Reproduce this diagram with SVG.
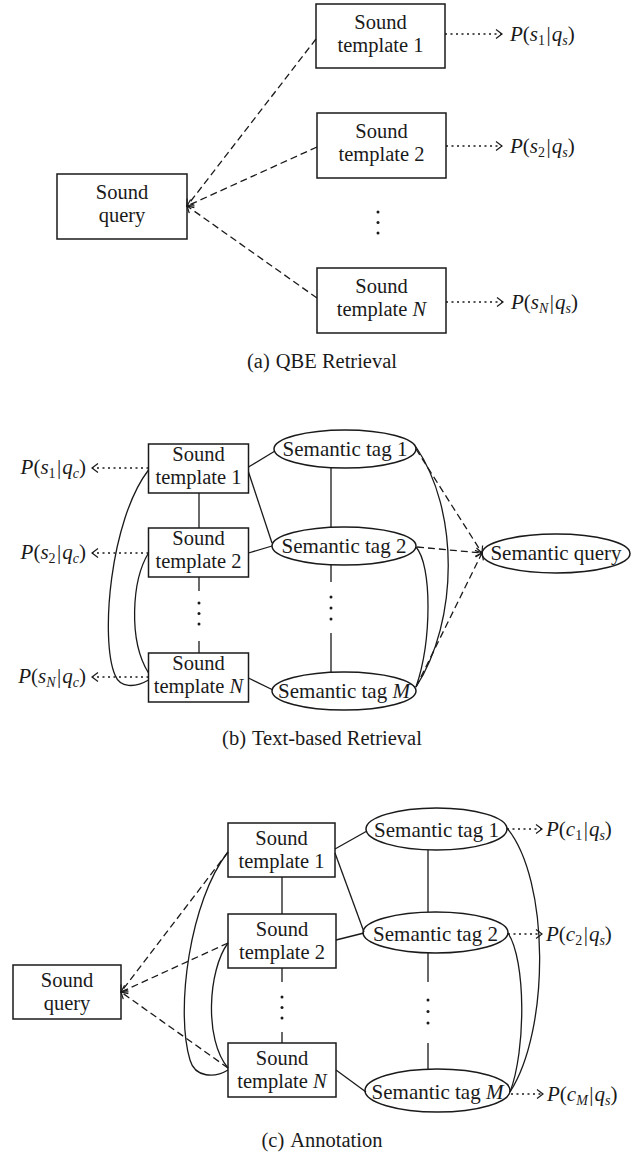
<svg xmlns="http://www.w3.org/2000/svg" width="644" height="1153" viewBox="0 0 644 1153">
  <defs>
    <style>
      .box { fill: none; stroke: #1a1a1a; stroke-width: 1.5; }
      .t { font-family: "Liberation Serif", "Times New Roman", serif; font-size: 21px; fill: #1a1a1a; text-anchor: middle; }
      .bt { font-size: 20.5px; }
      .lab { font-family: "Liberation Serif", "Times New Roman", serif; font-size: 21px; fill: #1a1a1a; }
      .end { text-anchor: end; }
      .i { font-style: italic; }
      .sub { font-size: 14px; }
      .ln { fill: none; stroke: #1a1a1a; stroke-width: 1.3; }
      .dash { stroke-dasharray: 7 4; }
      .dot { stroke-dasharray: 2 3.5; }
      .pt { fill: #1a1a1a; }
    </style>
    <marker id="chev" markerUnits="userSpaceOnUse" viewBox="-8 -6 10 12" refX="0" refY="0" markerWidth="10" markerHeight="12" orient="auto">
      <path d="M-6,-4.5 L0,0 L-6,4.5" fill="none" stroke="#1a1a1a" stroke-width="1.2"/>
    </marker>
  </defs>

  <!-- ===================== (a) QBE Retrieval ===================== -->
  <g id="a-query">
    <rect class="box" x="57" y="174" width="130" height="65"/>
    <text class="t bt" x="122" y="199">Sound</text>
    <text class="t bt" x="122" y="222">query</text>
  </g>
  <g id="a-template-1">
    <rect class="box" x="316" y="4" width="129" height="64"/>
    <text class="t bt" x="380.5" y="28.5">Sound</text>
    <text class="t bt" x="380.5" y="51.5">template 1</text>
  </g>
  <g id="a-template-2">
    <rect class="box" x="317" y="113" width="129" height="65"/>
    <text class="t bt" x="381.5" y="138">Sound</text>
    <text class="t bt" x="381.5" y="161">template 2</text>
  </g>
  <g id="a-template-n">
    <rect class="box" x="317" y="268" width="129" height="65"/>
    <text class="t bt" x="381.5" y="293">Sound</text>
    <text class="t bt" x="381.5" y="316">template <tspan class="i">N</tspan></text>
  </g>
  <g id="a-vdots">
    <circle class="pt" cx="378" cy="212" r="1.5"/>
    <circle class="pt" cx="378" cy="222.5" r="1.5"/>
    <circle class="pt" cx="378" cy="233" r="1.5"/>
  </g>
  <g id="a-labels">
    <text class="lab" x="510" y="41"><tspan class="i">P</tspan>(<tspan class="i">s</tspan><tspan class="sub" dy="4">1</tspan><tspan dy="-4" dx="1.5">|</tspan><tspan class="i" dx="1">q</tspan><tspan class="sub i" dy="4">s</tspan><tspan dy="-4">)</tspan></text>
    <text class="lab" x="510" y="153"><tspan class="i">P</tspan>(<tspan class="i">s</tspan><tspan class="sub" dy="4">2</tspan><tspan dy="-4" dx="1.5">|</tspan><tspan class="i" dx="1">q</tspan><tspan class="sub i" dy="4">s</tspan><tspan dy="-4">)</tspan></text>
    <text class="lab" x="511" y="309"><tspan class="i">P</tspan>(<tspan class="i">s</tspan><tspan class="sub i" dy="4">N</tspan><tspan dy="-4" dx="1.5">|</tspan><tspan class="i" dx="1">q</tspan><tspan class="sub i" dy="4">s</tspan><tspan dy="-4">)</tspan></text>
  </g>
  <g id="a-connectors">
    <path class="ln dash" d="M316,39 L187,206" marker-end="url(#chev)"/>
    <path class="ln dash" d="M317,147 L187,206" marker-end="url(#chev)"/>
    <path class="ln dash" d="M317,298 L187,206" marker-end="url(#chev)"/>
    <path class="ln dot" d="M445,34 L502,34" marker-end="url(#chev)"/>
    <path class="ln dot" d="M446,146 L502,146" marker-end="url(#chev)"/>
    <path class="ln dot" d="M446,302 L503,302" marker-end="url(#chev)"/>
  </g>
  <text class="t bt" x="322" y="368">(a)<tspan dx="6">QBE Retrieval</tspan></text>

  <!-- ===================== (b) Text-based Retrieval ===================== -->
  <g id="b-template-1">
    <rect class="box" x="148.5" y="444" width="100" height="49"/>
    <text class="t bt" x="198.5" y="461">Sound</text>
    <text class="t bt" x="198.5" y="484">template 1</text>
  </g>
  <g id="b-template-2">
    <rect class="box" x="148.5" y="528" width="100" height="49"/>
    <text class="t bt" x="198.5" y="545">Sound</text>
    <text class="t bt" x="198.5" y="568">template 2</text>
  </g>
  <g id="b-template-n">
    <rect class="box" x="148.5" y="653" width="100" height="49"/>
    <text class="t bt" x="198.5" y="670">Sound</text>
    <text class="t bt" x="198.5" y="693">template <tspan class="i">N</tspan></text>
  </g>
  <g id="b-tag-1">
    <ellipse class="box" cx="345" cy="449" rx="71" ry="19"/>
    <text class="t" x="345" y="456">Semantic tag 1</text>
  </g>
  <g id="b-tag-2">
    <ellipse class="box" cx="344" cy="546" rx="72" ry="19"/>
    <text class="t" x="344" y="553">Semantic tag 2</text>
  </g>
  <g id="b-tag-m">
    <ellipse class="box" cx="344" cy="691" rx="72" ry="19"/>
    <text class="t" x="344" y="698">Semantic tag <tspan class="i">M</tspan></text>
  </g>
  <g id="b-semantic-query">
    <ellipse class="box" cx="556" cy="553.5" rx="74" ry="19.5"/>
    <text class="t" x="556" y="560">Semantic query</text>
  </g>
  <g id="b-labels">
    <text class="lab end" x="86" y="474"><tspan class="i">P</tspan>(<tspan class="i">s</tspan><tspan class="sub" dy="4">1</tspan><tspan dy="-4" dx="1.5">|</tspan><tspan class="i" dx="1">q</tspan><tspan class="sub i" dy="4">c</tspan><tspan dy="-4">)</tspan></text>
    <text class="lab end" x="86" y="559"><tspan class="i">P</tspan>(<tspan class="i">s</tspan><tspan class="sub" dy="4">2</tspan><tspan dy="-4" dx="1.5">|</tspan><tspan class="i" dx="1">q</tspan><tspan class="sub i" dy="4">c</tspan><tspan dy="-4">)</tspan></text>
    <text class="lab end" x="86" y="683"><tspan class="i">P</tspan>(<tspan class="i">s</tspan><tspan class="sub i" dy="4">N</tspan><tspan dy="-4" dx="1.5">|</tspan><tspan class="i" dx="1">q</tspan><tspan class="sub i" dy="4">c</tspan><tspan dy="-4">)</tspan></text>
  </g>
  <g id="b-vdots">
    <circle class="pt" cx="199" cy="603" r="1.5"/>
    <circle class="pt" cx="199" cy="613.5" r="1.5"/>
    <circle class="pt" cx="199" cy="624" r="1.5"/>
    <circle class="pt" cx="331" cy="597" r="1.5"/>
    <circle class="pt" cx="331" cy="608" r="1.5"/>
    <circle class="pt" cx="331" cy="619" r="1.5"/>
  </g>
  <g id="b-connectors">
    <!-- template chain -->
    <path class="ln" d="M199,493 L199,528"/>
    <path class="ln" d="M199,577 L199,591 M199,641 L199,653"/>
    <!-- tag chain -->
    <path class="ln" d="M331,468 L331,527"/>
    <path class="ln" d="M331,565 L331,582 M331,633 L331,672"/>
    <!-- template to tag -->
    <path class="ln" d="M248.5,467 L275,451"/>
    <path class="ln" d="M248.5,472 L272,543"/>
    <path class="ln" d="M248.5,553 L272,546"/>
    <path class="ln" d="M248.5,678 L273,690"/>
    <!-- loops on the left -->
    <path class="ln" d="M148.5,470 C110,520 100,640 115,675 C120,688 135,688 148.5,680"/>
    <path class="ln" d="M148.5,553 C132,580 128,640 148.5,673"/>
    <!-- loops on the right -->
    <path class="ln" d="M416,447 C459,510 459,620 416,687"/>
    <path class="ln" d="M416,547 C432,565 432,640 416,687"/>
    <!-- tags to semantic query -->
    <path class="ln dash" d="M416,449 L482,553" marker-end="url(#chev)"/>
    <path class="ln dash" d="M417,547 L482,553" marker-end="url(#chev)"/>
    <path class="ln dash" d="M416,687 L482,553" marker-end="url(#chev)"/>
    <!-- outputs -->
    <path class="ln dot" d="M148.5,468 L92,468" marker-end="url(#chev)"/>
    <path class="ln dot" d="M148.5,553 L92,553" marker-end="url(#chev)"/>
    <path class="ln dot" d="M148.5,677 L92,677" marker-end="url(#chev)"/>
  </g>
  <text class="t bt" x="322" y="745">(b)<tspan dx="6">Text-based Retrieval</tspan></text>

  <!-- ===================== (c) Annotation ===================== -->
  <g id="c-query">
    <rect class="box" x="13" y="965" width="108" height="54"/>
    <text class="t bt" x="67" y="986.5">Sound</text>
    <text class="t bt" x="67" y="1009.5">query</text>
  </g>
  <g id="c-template-1">
    <rect class="box" x="228" y="823" width="107" height="54"/>
    <text class="t bt" x="281.5" y="844.5">Sound</text>
    <text class="t bt" x="281.5" y="867.5">template 1</text>
  </g>
  <g id="c-template-2">
    <rect class="box" x="228" y="914" width="108" height="54"/>
    <text class="t bt" x="282" y="935.5">Sound</text>
    <text class="t bt" x="282" y="958.5">template 2</text>
  </g>
  <g id="c-template-n">
    <rect class="box" x="228" y="1043" width="108" height="54"/>
    <text class="t bt" x="282" y="1064.5">Sound</text>
    <text class="t bt" x="282" y="1087.5">template <tspan class="i">N</tspan></text>
  </g>
  <g id="c-tag-1">
    <ellipse class="box" cx="436.5" cy="829" rx="70.5" ry="21"/>
    <text class="t" x="436.5" y="837">Semantic tag 1</text>
  </g>
  <g id="c-tag-2">
    <ellipse class="box" cx="435.5" cy="932.5" rx="72.5" ry="20.5"/>
    <text class="t" x="435.5" y="940.5">Semantic tag 2</text>
  </g>
  <g id="c-tag-m">
    <ellipse class="box" cx="437.5" cy="1090.5" rx="72.5" ry="21.5"/>
    <text class="t" x="437.5" y="1098.5">Semantic tag <tspan class="i">M</tspan></text>
  </g>
  <g id="c-labels">
    <text class="lab" x="546" y="836"><tspan class="i">P</tspan>(<tspan class="i">c</tspan><tspan class="sub" dy="4">1</tspan><tspan dy="-4" dx="1.5">|</tspan><tspan class="i" dx="1">q</tspan><tspan class="sub i" dy="4">s</tspan><tspan dy="-4">)</tspan></text>
    <text class="lab" x="546" y="941"><tspan class="i">P</tspan>(<tspan class="i">c</tspan><tspan class="sub" dy="4">2</tspan><tspan dy="-4" dx="1.5">|</tspan><tspan class="i" dx="1">q</tspan><tspan class="sub i" dy="4">s</tspan><tspan dy="-4">)</tspan></text>
    <text class="lab" x="547" y="1101"><tspan class="i">P</tspan>(<tspan class="i">c</tspan><tspan class="sub i" dy="4">M</tspan><tspan dy="-4" dx="1.5">|</tspan><tspan class="i" dx="1">q</tspan><tspan class="sub i" dy="4">s</tspan><tspan dy="-4">)</tspan></text>
  </g>
  <g id="c-vdots">
    <circle class="pt" cx="282" cy="997" r="1.5"/>
    <circle class="pt" cx="282" cy="1007.5" r="1.5"/>
    <circle class="pt" cx="282" cy="1018" r="1.5"/>
    <circle class="pt" cx="428" cy="1000" r="1.5"/>
    <circle class="pt" cx="428" cy="1011.5" r="1.5"/>
    <circle class="pt" cx="428" cy="1023" r="1.5"/>
  </g>
  <g id="c-connectors">
    <!-- template chain -->
    <path class="ln" d="M282,877 L282,914"/>
    <path class="ln" d="M282,968 L282,982 M282,1032 L282,1043"/>
    <!-- tag chain -->
    <path class="ln" d="M428,850 L428,912"/>
    <path class="ln" d="M428,953 L428,982 M428,1043 L428,1069"/>
    <!-- template to tag -->
    <path class="ln" d="M335,849 L367,831"/>
    <path class="ln" d="M335,853 L364,932"/>
    <path class="ln" d="M336,940 L364,933"/>
    <path class="ln" d="M336,1070 L366,1092"/>
    <!-- loops on the left -->
    <path class="ln" d="M228,852 C190,900 175,1010 190,1060 C195,1078 215,1078 228,1070"/>
    <path class="ln" d="M228,943 C208,970 204,1040 228,1068"/>
    <!-- loops on the right -->
    <path class="ln" d="M507,828 C550,880 550,1030 510,1092"/>
    <path class="ln" d="M508,933 C526,960 526,1050 510,1092"/>
    <!-- templates to sound query -->
    <path class="ln dash" d="M228,852 L121,992" marker-end="url(#chev)"/>
    <path class="ln dash" d="M228,943 L121,992" marker-end="url(#chev)"/>
    <path class="ln dash" d="M228,1068 L121,992" marker-end="url(#chev)"/>
    <!-- outputs -->
    <path class="ln dot" d="M507,829 L542,829" marker-end="url(#chev)"/>
    <path class="ln dot" d="M508,934 L542,934" marker-end="url(#chev)"/>
    <path class="ln dot" d="M511,1094 L543,1094" marker-end="url(#chev)"/>
  </g>
  <text class="t bt" x="322" y="1147">(c)<tspan dx="6">Annotation</tspan></text>
</svg>
